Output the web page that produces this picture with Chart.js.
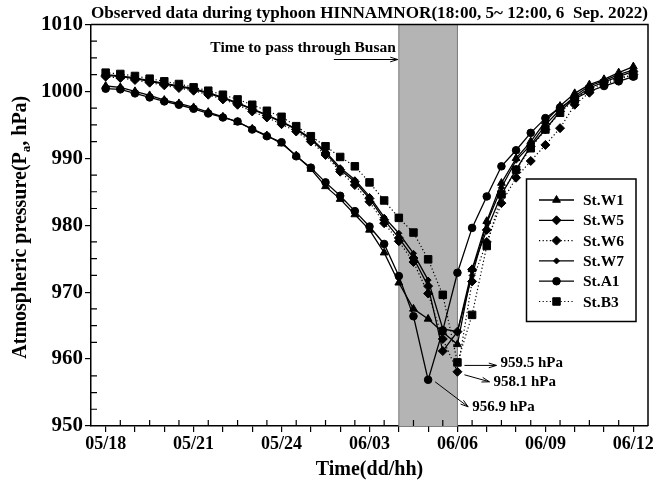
<!DOCTYPE html>
<html>
<head>
<meta charset="utf-8">
<script src="https://cdn.jsdelivr.net/npm/chart.js@4.4.1/dist/chart.umd.min.js"></script>
<style>
  html, body { margin: 0; padding: 0; background: #fff; }
  #wrap { width: 669px; height: 484px; }
</style>
</head>
<body>
<div id="wrap"><canvas id="c" width="669" height="484"></canvas></div>
<script>
// time in hours after 18:00 on the 5th (0 = 05/18, 18 = 06/12), every 30 min
const hours = [0, 0.5, 1, 1.5, 2, 2.5, 3, 3.5, 4, 4.5, 5, 5.5, 6, 6.5, 7, 7.5, 8, 8.5, 9, 9.5,
    10, 10.5, 11, 11.5, 12, 12.5, 13, 13.5, 14, 14.5, 15, 15.5, 16, 16.5, 17, 17.5, 18];

// atmospheric pressure, hPa
const stW1 = [1000.8, 1000.6, 1000.0, 999.4, 998.7, 998.2, 997.6, 996.9, 996.2, 995.4,
    994.4, 993.4, 992.2, 990.4, 988.4, 985.8, 983.9, 981.6, 979.3, 975.9,
    971.4, 967.5, 966.0, 964.0, 962.2, 973.4, 980.6, 986.3, 990.0, 992.5,
    995.5, 997.8, 999.7, 1001.0, 1001.8, 1002.8, 1003.7];
const stW5 = [1002.4, 1002.2, 1001.9, 1001.5, 1001.1, 1000.7, 1000.3, 999.7, 999.0, 998.2,
    997.3, 996.4, 995.4, 994.3, 992.8, 990.8, 988.3, 986.5, 984.0, 980.8,
    978.1, 975.1, 970.9, 961.2, 964.1, 973.4, 979.3, 984.6, 988.3, 991.8,
    994.3, 997.0, 999.0, 1000.5, 1001.4, 1002.2, 1003.0];
const stW6 = [1002.2, 1002.0, 1001.7, 1001.3, 1000.9, 1000.5, 1000.1, 999.5, 998.8, 998.0,
    997.0, 996.1, 995.1, 994.0, 992.5, 990.5, 988.0, 986.0, 983.5, 980.3,
    977.6, 974.5, 969.8, 963.0, 958.1, 971.6, 977.5, 983.3, 987.1, 989.6,
    992.0, 994.5, 998.0, 999.8, 1001.0, 1001.8, 1002.5];
const stW7 = [1002.5, 1002.3, 1002.0, 1001.6, 1001.2, 1000.8, 1000.4, 999.8, 999.1, 998.3,
    997.4, 996.5, 995.5, 994.4, 993.0, 991.0, 988.6, 986.8, 984.3, 981.2,
    978.8, 975.8, 971.8, 964.5, 964.1, 972.5, 980.3, 985.6, 989.7, 992.0,
    995.0, 997.3, 999.3, 1000.8, 1001.6, 1002.5, 1003.2];
const stA1 = [1000.4, 1000.3, 999.7, 999.1, 998.5, 998.0, 997.4, 996.7, 996.1, 995.5,
    994.3, 993.3, 992.4, 990.3, 988.6, 986.4, 984.4, 982.1, 979.8, 977.2,
    972.4, 966.4, 956.9, 964.3, 972.9, 979.6, 984.3, 988.8, 991.2, 993.8,
    996.0, 997.6, 998.9, 1000.0, 1000.8, 1001.5, 1002.2];
const stB3 = [1002.8, 1002.6, 1002.3, 1001.9, 1001.5, 1001.1, 1000.6, 1000.1, 999.5, 998.8,
    998.0, 997.1, 996.2, 994.8, 993.3, 991.8, 990.2, 988.8, 986.4, 983.7,
    981.1, 978.9, 974.9, 969.6, 959.5, 966.6, 976.9, 984.6, 988.3, 991.5,
    994.3, 996.8, 998.8, 1000.3, 1001.2, 1002.0, 1002.4];

// tick labels
const xLabelHours = [0, 3, 6, 9, 12, 15, 18];
const xLabelText = ['05/18', '05/21', '05/24', '06/03', '06/06', '06/09', '06/12'];
const yLabelValues = [950, 960, 970, 980, 990, 1000, 1010];

// passing window (06/04 - 06/06)
const passStart = 10;
const passEnd = 12;

const SERIF = '"Liberation Serif", "Times New Roman", serif';

function series(label, values, style, radius, dotted) {
    return {
        label: label,
        data: hours.map((h, i) => ({ x: h, y: values[i] })),
        borderColor: '#000',
        borderWidth: dotted ? 1.2 : 1.3,
        borderDash: dotted ? [1.2, 2.4] : [],
        backgroundColor: '#000',
        pointBackgroundColor: '#000',
        pointBorderColor: '#000',
        pointBorderWidth: 1,
        pointStyle: style,
        pointRadius: radius,
        tension: 0,
        fill: false
    };
}

function arrow(ctx, x1, y1, x2, y2) {
    let a = Math.atan2(y2 - y1, x2 - x1);
    let len = 8;
    ctx.beginPath();
    ctx.moveTo(x1, y1);
    ctx.lineTo(x2, y2);
    ctx.moveTo(x2 - len * Math.cos(a - 0.3), y2 - len * Math.sin(a - 0.3));
    ctx.lineTo(x2, y2);
    ctx.lineTo(x2 - len * Math.cos(a + 0.3), y2 - len * Math.sin(a + 0.3));
    ctx.stroke();
}

// gray band, frame, inner ticks, y title, notes and legend
const decorations = {
    id: 'decorations',
    beforeDatasetsDraw(chart) {
        let ctx = chart.ctx;
        let area = chart.chartArea;
        let xs = chart.scales.x;
        let x1 = xs.getPixelForValue(passStart);
        let x2 = xs.getPixelForValue(passEnd);
        ctx.save();
        ctx.fillStyle = '#b4b4b4';
        ctx.fillRect(x1, area.top, x2 - x1, area.bottom - area.top);
        ctx.strokeStyle = '#7a7a7a';
        ctx.lineWidth = 1;
        ctx.beginPath();
        ctx.moveTo(x1, area.top); ctx.lineTo(x1, area.bottom);
        ctx.moveTo(x2, area.top); ctx.lineTo(x2, area.bottom);
        ctx.stroke();
        ctx.restore();
    },
    afterDraw(chart) {
        let ctx = chart.ctx;
        let area = chart.chartArea;
        let xs = chart.scales.x;
        let ys = chart.scales.y;
        ctx.save();

        // frame top and right
        ctx.strokeStyle = '#000';
        ctx.lineWidth = 1.5;
        ctx.beginPath();
        ctx.moveTo(area.left, area.top);
        ctx.lineTo(area.right, area.top);
        ctx.lineTo(area.right, area.bottom);
        ctx.stroke();

        // inner minor ticks
        ctx.lineWidth = 1.2;
        ctx.beginPath();
        for (let h = 0.5; h < 18.5; h += 1) {
            let px = xs.getPixelForValue(h);
            ctx.moveTo(px, area.bottom);
            ctx.lineTo(px, area.bottom - 6);
        }
        for (let v = 952.5; v < 1010; v += 2.5) {
            if (v % 10 === 0) continue;
            let py = ys.getPixelForValue(v);
            ctx.moveTo(area.left, py);
            ctx.lineTo(area.left + 6, py);
        }
        ctx.stroke();

        // y title with subscript
        ctx.fillStyle = '#000';
        ctx.translate(21, (area.top + area.bottom) / 2 + 2);
        ctx.rotate(-Math.PI / 2);
        let big = 'bold 20px ' + SERIF;
        let small = 'bold 13px ' + SERIF;
        let p1 = 'Atmospheric pressure(P', p2 = 'a', p3 = ', hPa)';
        ctx.font = big; let w1 = ctx.measureText(p1).width; let w3 = ctx.measureText(p3).width;
        ctx.font = small; let w2 = ctx.measureText(p2).width;
        let start = -(w1 + w2 + w3) / 2;
        ctx.textBaseline = 'middle';
        ctx.textAlign = 'left';
        ctx.font = big; ctx.fillText(p1, start, 0);
        ctx.font = small; ctx.fillText(p2, start + w1, 6);
        ctx.font = big; ctx.fillText(p3, start + w1 + w2, 0);
        ctx.setTransform(1, 0, 0, 1, 0, 0);

        // passing note
        let bandX = xs.getPixelForValue(passStart);
        ctx.strokeStyle = '#000';
        ctx.lineWidth = 1;
        ctx.font = 'bold 15.5px ' + SERIF;
        ctx.textAlign = 'right';
        ctx.textBaseline = 'alphabetic';
        ctx.fillText('Time to pass through Busan', bandX - 3, 51.5);
        arrow(ctx, bandX - 65, 59.5, bandX - 1, 59.5);

        // minimum notes
        ctx.font = 'bold 15px ' + SERIF;
        ctx.textAlign = 'left';
        ctx.textBaseline = 'middle';
        let pB3 = [xs.getPixelForValue(12), ys.getPixelForValue(959.5)];
        arrow(ctx, pB3[0] + 7, pB3[1] + 3, pB3[0] + 39, pB3[1] + 3);
        ctx.fillText('959.5 hPa', pB3[0] + 43, pB3[1] + 1);
        let pW6 = [xs.getPixelForValue(12), ys.getPixelForValue(958.1)];
        arrow(ctx, pW6[0] + 7, pW6[1] + 3, pW6[0] + 32, pW6[1] + 10);
        ctx.fillText('958.1 hPa', pW6[0] + 36, pW6[1] + 10.5);
        let pA1 = [xs.getPixelForValue(11), ys.getPixelForValue(956.9)];
        arrow(ctx, pA1[0] + 7, pA1[1] + 2, pA1[0] + 40, pA1[1] + 27);
        ctx.fillText('956.9 hPa', pA1[0] + 44, pA1[1] + 27);

        // legend
        ctx.lineWidth = 1.5;
        ctx.strokeRect(526.5, 179, 109.5, 142.5);
        ctx.font = 'bold 15.5px ' + SERIF;
        chart.data.datasets.forEach((ds, i) => {
            let y = 200 + i * 20.3;
            ctx.lineWidth = ds.borderWidth;
            ctx.setLineDash(ds.borderDash);
            ctx.beginPath();
            ctx.moveTo(539, y);
            ctx.lineTo(574, y);
            ctx.stroke();
            ctx.setLineDash([]);
            ctx.fillStyle = '#000';
            ctx.lineWidth = 1;
            Chart.helpers.drawPoint(ctx, {
                pointStyle: ds.pointStyle, radius: ds.pointRadius, rotation: 0, borderWidth: 1
            }, 556.5, y);
            ctx.fillText(ds.label, 583, y + 1);
        });
        ctx.restore();
    }
};

new Chart(document.getElementById('c'), {
    type: 'line',
    data: {
        datasets: [
            series('St.W1', stW1, 'triangle', 4.5, false),
            series('St.W5', stW5, 'rectRot', 4.5, false),
            series('St.W6', stW6, 'rectRot', 4.5, true),
            series('St.W7', stW7, 'rectRot', 3, false),
            series('St.A1', stA1, 'circle', 3.8, false),
            series('St.B3', stB3, 'rect', 5.3, true)
        ]
    },
    options: {
        responsive: false,
        animation: false,
        devicePixelRatio: 1,
        layout: { padding: { left: 0, right: 21, top: 0, bottom: 0 } },
        plugins: {
            legend: { display: false },
            tooltip: { enabled: false },
            title: {
                display: true,
                fullSize: false,
                text: 'Observed data during typhoon HINNAMNOR(18:00, 5~ 12:00, 6  Sep. 2022)',
                color: '#000',
                font: { family: SERIF, size: 17.2, weight: 'bold', lineHeight: 1.2 },
                padding: { top: 3, bottom: 0.8 }
            }
        },
        scales: {
            x: {
                type: 'linear',
                min: -0.5,
                max: 18.5,
                afterBuildTicks: (s) => {
                    let t = [];
                    for (let h = 0; h <= 18; h++) t.push({ value: h });
                    s.ticks = t;
                },
                afterFit: (s) => { s.height = 58; },
                ticks: {
                    autoSkip: false,
                    maxRotation: 0,
                    padding: 2,
                    color: '#000',
                    font: { family: SERIF, size: 18, weight: 'bold' },
                    callback: (v) => {
                        let k = xLabelHours.indexOf(v);
                        return k >= 0 ? xLabelText[k] : '';
                    }
                },
                grid: { drawOnChartArea: false, drawTicks: true, tickLength: 6, color: '#000', lineWidth: 1.2 },
                border: { display: true, color: '#000', width: 1.5 },
                title: {
                    display: true,
                    text: 'Time(dd/hh)',
                    color: '#000',
                    font: { family: SERIF, size: 20, weight: 'bold', lineHeight: 1.2 },
                    padding: { top: 0, bottom: 2 }
                }
            },
            y: {
                min: 950,
                max: 1010,
                afterBuildTicks: (s) => { s.ticks = yLabelValues.map(v => ({ value: v })); },
                afterFit: (s) => { s.width = 91; },
                ticks: {
                    padding: 2,
                    color: '#000',
                    font: { family: SERIF, size: 21, weight: 'bold' },
                    callback: (v) => String(v)
                },
                grid: { drawOnChartArea: false, drawTicks: true, tickLength: 6, color: '#000', lineWidth: 1.2 },
                border: { display: true, color: '#000', width: 1.5 }
            }
        }
    },
    plugins: [decorations]
});
</script>
</body>
</html>
